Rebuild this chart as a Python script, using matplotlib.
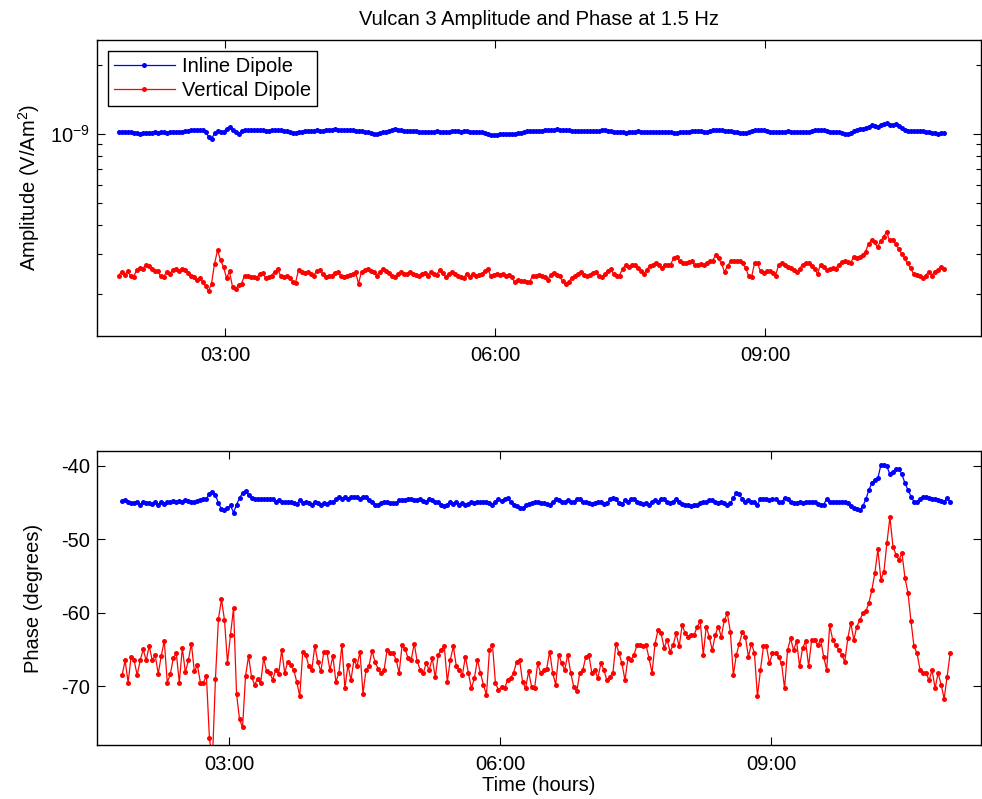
import numpy as np
import matplotlib
matplotlib.use("Agg")
import matplotlib.pyplot as plt
from matplotlib.ticker import FixedLocator, FuncFormatter, LogLocator, NullFormatter

# ── data ─────────────────────────────────────────────────────────────────────
# record clock: first record at 01:49, one record every 2 minutes
T0_MIN = 109
STEP_MIN = 2
AMP_UNIT = 1e-10   # amplitudes below are in units of 1e-10 V/Am^2

amp_inline = [
    10.23, 10.24, 10.22, 10.20, 10.18, 10.10, 10.06, 10.04, 10.07, 10.10,
    10.12, 10.15, 10.17, 10.14, 10.16, 10.19, 10.15, 10.18, 10.20, 10.17,
    10.21, 10.24, 10.26, 10.30, 10.38, 10.42, 10.40, 10.36, 10.41, 10.24,
    9.73, 9.51, 10.07, 10.34, 10.17, 10.24, 10.52, 10.73, 10.41, 10.17,
    10.00, 10.31, 10.41, 10.40, 10.38, 10.41, 10.39, 10.36, 10.38, 10.35,
    10.34, 10.37, 10.40, 10.41, 10.38, 10.35, 10.30, 10.20, 10.10, 10.15,
    10.20, 10.25, 10.30, 10.31, 10.30, 10.34, 10.36, 10.33, 10.35, 10.38,
    10.42, 10.45, 10.48, 10.45, 10.41, 10.40, 10.38, 10.40, 10.36, 10.33,
    10.35, 10.30, 10.25, 10.18, 10.10, 10.02, 10.00, 10.08, 10.18, 10.25,
    10.35, 10.45, 10.52, 10.45, 10.40, 10.35, 10.32, 10.31, 10.30, 10.26,
    10.24, 10.22, 10.25, 10.24, 10.20, 10.23, 10.26, 10.24, 10.22, 10.24,
    10.24, 10.26, 10.30, 10.28, 10.25, 10.30, 10.26, 10.22, 10.24, 10.20,
    10.24, 10.18, 10.10, 9.95, 9.88, 9.90, 9.92, 9.95, 9.97, 9.96,
    10.00, 9.98, 10.02, 10.06, 10.15, 10.20, 10.28, 10.30, 10.31, 10.30,
    10.31, 10.33, 10.38, 10.40, 10.42, 10.45, 10.48, 10.45, 10.42, 10.40,
    10.36, 10.35, 10.33, 10.34, 10.32, 10.30, 10.31, 10.29, 10.30, 10.28,
    10.32, 10.36, 10.40, 10.35, 10.28, 10.25, 10.20, 10.22, 10.18, 10.15,
    10.20, 10.24, 10.22, 10.26, 10.24, 10.22, 10.25, 10.24, 10.20, 10.23,
    10.24, 10.20, 10.18, 10.17, 10.20, 10.15, 10.14, 10.16, 10.18, 10.20,
    10.25, 10.30, 10.35, 10.32, 10.28, 10.20, 10.18, 10.28, 10.38, 10.43,
    10.45, 10.40, 10.35, 10.31, 10.30, 10.25, 10.22, 10.15, 10.10, 10.07,
    10.20, 10.35, 10.42, 10.43, 10.45, 10.40, 10.35, 10.25, 10.20, 10.18,
    10.17, 10.20, 10.24, 10.26, 10.22, 10.20, 10.17, 10.20, 10.18, 10.20,
    10.22, 10.28, 10.38, 10.42, 10.40, 10.36, 10.30, 10.25, 10.24, 10.22,
    10.20, 10.10, 10.00, 10.02, 10.15, 10.30, 10.45, 10.48, 10.55, 10.62,
    10.78, 10.90, 10.80, 10.75, 10.95, 11.08, 11.12, 11.00, 10.90, 11.05,
    10.85, 10.65, 10.45, 10.33, 10.30, 10.28, 10.31, 10.33, 10.30, 10.25,
    10.17, 10.12, 10.05, 10.00, 10.08, 10.12,
]

amp_vertical = [
    2.41, 2.50, 2.43, 2.51, 2.41, 2.37, 2.54, 2.61, 2.58, 2.67,
    2.64, 2.58, 2.53, 2.51, 2.41, 2.37, 2.50, 2.45, 2.54, 2.58,
    2.51, 2.57, 2.54, 2.48, 2.41, 2.37, 2.30, 2.34, 2.26, 2.17,
    2.06, 2.22, 2.71, 3.10, 2.81, 2.63, 2.35, 2.51, 2.15, 2.11,
    2.18, 2.22, 2.41, 2.41, 2.37, 2.37, 2.35, 2.45, 2.48, 2.35,
    2.37, 2.41, 2.50, 2.57, 2.41, 2.37, 2.41, 2.34, 2.26, 2.24,
    2.54, 2.50, 2.48, 2.50, 2.45, 2.41, 2.51, 2.54, 2.45, 2.37,
    2.40, 2.41, 2.48, 2.50, 2.41, 2.37, 2.41, 2.43, 2.45, 2.50,
    2.22, 2.50, 2.54, 2.58, 2.51, 2.50, 2.41, 2.50, 2.58, 2.51,
    2.48, 2.40, 2.37, 2.45, 2.50, 2.45, 2.45, 2.50, 2.45, 2.43,
    2.41, 2.45, 2.48, 2.41, 2.50, 2.45, 2.43, 2.54, 2.48, 2.37,
    2.45, 2.50, 2.45, 2.41, 2.37, 2.35, 2.45, 2.37, 2.45, 2.41,
    2.43, 2.45, 2.51, 2.58, 2.41, 2.43, 2.45, 2.43, 2.45, 2.41,
    2.43, 2.37, 2.26, 2.30, 2.28, 2.28, 2.26, 2.26, 2.40, 2.41,
    2.43, 2.41, 2.37, 2.30, 2.43, 2.48, 2.43, 2.40, 2.28, 2.22,
    2.26, 2.35, 2.40, 2.45, 2.50, 2.43, 2.41, 2.43, 2.48, 2.50,
    2.41, 2.37, 2.45, 2.51, 2.58, 2.45, 2.40, 2.41, 2.58, 2.67,
    2.63, 2.67, 2.69, 2.60, 2.51, 2.45, 2.54, 2.65, 2.69, 2.74,
    2.69, 2.60, 2.67, 2.69, 2.69, 2.86, 2.91, 2.78, 2.72, 2.74,
    2.76, 2.78, 2.69, 2.67, 2.71, 2.67, 2.74, 2.78, 2.80, 2.95,
    2.86, 2.72, 2.50, 2.65, 2.78, 2.80, 2.78, 2.78, 2.74, 2.60,
    2.41, 2.37, 2.72, 2.72, 2.51, 2.48, 2.51, 2.51, 2.48, 2.41,
    2.67, 2.72, 2.67, 2.63, 2.60, 2.54, 2.50, 2.58, 2.69, 2.74,
    2.72, 2.65, 2.58, 2.45, 2.69, 2.63, 2.54, 2.58, 2.60, 2.58,
    2.69, 2.76, 2.80, 2.76, 2.72, 2.91, 2.87, 2.91, 2.97, 3.06,
    3.32, 3.43, 3.36, 3.21, 3.40, 3.55, 3.74, 3.43, 3.45, 3.32,
    3.16, 3.00, 2.87, 2.72, 2.60, 2.45, 2.43, 2.40, 2.35, 2.41,
    2.50, 2.41, 2.50, 2.54, 2.63, 2.58,
]

phase_inline = [
    -44.8, -44.7, -45.0, -45.1, -45.1, -44.9, -45.3, -45.0, -45.1, -45.1,
    -45.2, -45.0, -45.3, -44.9, -45.2, -45.0, -44.9, -44.8, -44.9, -44.8,
    -44.9, -44.7, -44.8, -45.0, -45.0, -44.8, -44.7, -44.6, -44.5, -43.8,
    -43.6, -44.0, -45.1, -45.9, -46.1, -45.8, -45.4, -46.4, -45.3, -44.4,
    -43.7, -43.4, -44.0, -44.4, -44.6, -44.6, -44.5, -44.5, -44.5, -44.6,
    -44.5, -44.9, -44.7, -45.0, -45.0, -45.0, -45.0, -45.1, -45.2, -44.7,
    -45.1, -44.9, -45.1, -45.3, -44.9, -45.1, -45.3, -45.1, -45.2, -45.0,
    -44.9, -44.6, -44.3, -44.5, -44.3, -44.5, -44.3, -44.2, -44.3, -44.6,
    -44.2, -44.3, -44.7, -44.9, -45.3, -45.3, -45.1, -44.9, -45.0, -45.1,
    -45.1, -45.1, -44.7, -44.7, -44.7, -44.6, -44.6, -44.7, -44.7, -44.6,
    -44.8, -44.9, -44.6, -44.7, -44.9, -45.0, -45.3, -45.5, -45.3, -45.0,
    -45.2, -45.0, -45.3, -45.1, -45.3, -45.2, -44.9, -45.1, -44.9, -44.9,
    -45.0, -44.9, -45.1, -45.3, -44.9, -44.6, -44.8, -44.5, -44.4, -44.9,
    -45.3, -45.5, -45.7, -45.8, -45.4, -45.2, -45.1, -45.0, -44.9, -45.1,
    -45.1, -45.2, -45.3, -44.9, -44.6, -44.7, -44.9, -44.9, -44.7, -45.0,
    -44.9, -44.5, -44.6, -44.9, -45.0, -45.1, -45.2, -45.1, -45.0, -45.0,
    -45.2, -45.1, -44.6, -44.4, -44.6, -45.1, -45.2, -44.7, -44.9, -44.5,
    -44.5, -44.9, -45.1, -45.2, -45.1, -45.3, -45.0, -44.7, -44.9, -44.6,
    -44.6, -44.9, -45.1, -44.9, -44.6, -44.9, -45.2, -45.3, -45.4, -45.5,
    -45.4, -45.3, -45.1, -44.9, -45.0, -44.7, -44.7, -44.9, -45.1, -45.0,
    -45.1, -45.3, -45.1, -44.4, -43.7, -43.9, -44.6, -44.9, -44.7, -45.0,
    -44.9, -45.3, -44.5, -44.6, -44.6, -44.7, -44.6, -44.6, -44.9, -45.0,
    -44.4, -44.6, -44.9, -45.1, -45.1, -45.0, -45.1, -45.0, -44.9, -44.9,
    -45.0, -45.2, -45.3, -45.3, -44.5, -45.0, -45.0, -45.0, -44.9, -45.0,
    -45.0, -45.1, -45.5, -45.8, -45.9, -46.0, -45.5, -44.6, -43.3, -42.4,
    -42.0, -41.7, -39.9, -39.9, -40.1, -41.2, -40.8, -40.4, -40.4, -41.2,
    -42.4, -43.3, -44.2, -44.9, -44.9, -44.5, -44.3, -44.3, -44.4, -44.5,
    -44.5, -44.7, -44.8, -44.9, -44.4, -45.0,
]

phase_vertical = [
    -68.5, -66.5, -69.5, -66.0, -66.5, -68.5, -66.5, -65.0, -66.5, -64.5,
    -66.5, -65.8, -68.3, -65.9, -63.8, -69.5, -68.4, -66.2, -65.5, -69.5,
    -64.8, -68.1, -66.5, -64.2, -68.0, -67.1, -69.5, -69.5, -68.6, -77.1,
    -80.0, -69.0, -60.8, -58.2, -61.0, -66.8, -63.0, -59.4, -71.0, -74.5,
    -75.6, -68.6, -65.9, -68.8, -69.8, -69.0, -69.6, -66.2, -68.0, -68.2,
    -69.1, -67.8, -68.3, -65.1, -68.2, -66.7, -67.1, -67.8, -69.4, -71.4,
    -65.3, -65.7, -67.3, -67.8, -64.5, -66.7, -68.0, -65.3, -65.3, -67.8,
    -65.9, -69.4, -68.2, -64.4, -70.3, -67.1, -69.2, -66.4, -67.3, -65.3,
    -71.0, -67.8, -67.2, -65.2, -66.7, -67.6, -68.2, -67.8, -65.1, -65.5,
    -65.5, -66.4, -68.2, -64.4, -65.0, -66.2, -66.5, -64.2, -66.6, -67.8,
    -68.2, -66.9, -67.8, -66.2, -68.8, -65.7, -65.1, -64.6, -69.4, -66.4,
    -64.6, -67.3, -67.8, -68.5, -66.0, -68.2, -70.3, -68.9, -66.4, -68.2,
    -69.8, -71.2, -65.1, -64.4, -69.6, -70.5, -70.1, -70.3, -69.2, -68.9,
    -68.2, -66.7, -66.4, -69.4, -70.3, -68.0, -70.1, -70.3, -66.9, -68.2,
    -67.8, -67.6, -65.3, -68.2, -69.8, -65.7, -66.9, -67.8, -65.7, -68.2,
    -70.1, -70.7, -68.2, -67.8, -66.0, -65.7, -68.2, -67.8, -68.9, -66.9,
    -67.8, -69.2, -68.7, -68.2, -64.2, -65.5, -66.9, -69.2, -66.2, -66.4,
    -65.7, -64.4, -64.4, -64.6, -64.4, -66.2, -68.2, -64.2, -62.3, -62.8,
    -64.8, -63.7, -65.3, -64.4, -62.8, -64.6, -61.7, -62.8, -63.3, -63.0,
    -63.0, -61.9, -61.2, -65.7, -61.9, -63.3, -65.1, -63.0, -61.9, -63.3,
    -61.0, -60.1, -62.6, -68.5, -65.7, -64.2, -62.6, -63.3, -66.0, -64.2,
    -65.5, -71.4, -67.8, -64.6, -64.6, -66.9, -65.5, -65.5, -66.0, -66.9,
    -70.3, -65.1, -63.5, -65.1, -63.9, -67.3, -64.8, -63.9, -67.3, -63.7,
    -63.7, -64.4, -63.7, -66.0, -67.8, -61.7, -63.7, -64.4, -65.1, -65.7,
    -66.7, -63.5, -61.4, -63.7, -61.9, -61.0, -60.1, -59.8, -58.7, -56.9,
    -54.6, -51.4, -55.5, -54.4, -50.5, -47.0, -51.0, -52.1, -52.8, -51.9,
    -55.3, -57.3, -61.2, -64.6, -65.5, -67.8, -68.2, -68.2, -69.2, -67.8,
    -70.3, -68.2, -69.8, -71.7, -68.7, -65.5,
]

hours = (T0_MIN + STEP_MIN * np.arange(len(amp_inline))) / 60.0

# ── style ─────────────────────────────────────────────────────────────────────
plt.rcParams.update({
    "font.family": "Liberation Sans", "font.size": 14.5,
    "mathtext.fontset": "custom", "mathtext.rm": "Liberation Sans",
    "mathtext.it": "Liberation Sans:italic", "mathtext.bf": "Liberation Sans:bold",
    "axes.unicode_minus": False, "axes.linewidth": 1.0,
    "xtick.direction": "in", "ytick.direction": "in",
    "xtick.top": True, "ytick.right": True,
    "xtick.major.size": 6, "ytick.major.size": 6,
    "xtick.minor.size": 3.5, "ytick.minor.size": 3.5,
})
C_IN = "#0000ff"
C_VT = "#ff0000"
line_kw = dict(marker="o", ms=3.6, mew=0, lw=0.9)

def hhmm(h, pos):
    return f"{int(round(h)):02d}:00"

fig = plt.figure(figsize=(9.82, 7.99), dpi=100)
ax1 = fig.add_axes([0.0988, 0.5795, 0.9002, 0.3705])
ax2 = fig.add_axes([0.0988, 0.0676, 0.9002, 0.3680])

# ── amplitude ────────────────────────────────────────────────────────────────
ax1.semilogy(hours, np.array(amp_inline) * AMP_UNIT, color=C_IN, label="Inline Dipole", **line_kw)
ax1.semilogy(hours, np.array(amp_vertical) * AMP_UNIT, color=C_VT, label="Vertical Dipole", **line_kw)
ax1.set_xlim(1.578, 11.40)
ax1.set_ylim(1.312e-10, 2.574e-9)
ax1.yaxis.set_major_locator(LogLocator(base=10))
ax1.yaxis.set_minor_locator(LogLocator(base=10, subs=np.arange(2, 10)))
ax1.yaxis.set_minor_formatter(NullFormatter())
ax1.set_ylabel("Amplitude (V/Am$^2$)", labelpad=6)
ax1.set_title("Vulcan 3 Amplitude and Phase at 1.5 Hz", fontsize=14.5, pad=11)
ax1.legend(loc="upper left", handlelength=3, handletextpad=0.35, labelspacing=0.25,
           borderpad=0.3, borderaxespad=0.55, fancybox=False, framealpha=1,
           edgecolor="black", numpoints=1)

# ── phase ────────────────────────────────────────────────────────────────────
ax2.plot(hours, phase_inline, color=C_IN, **line_kw)
ax2.plot(hours, phase_vertical, color=C_VT, **line_kw)
ax2.set_xlim(1.539, 11.325)
ax2.set_ylim(-78, -38)
ax2.yaxis.set_major_locator(FixedLocator([-70, -60, -50, -40]))
ax2.set_ylabel("Phase (degrees)", labelpad=13)
ax2.set_xlabel("Time (hours)", labelpad=2)

for ax in (ax1, ax2):
    ax.xaxis.set_major_locator(FixedLocator([3, 6, 9]))
    ax.xaxis.set_major_formatter(FuncFormatter(hhmm))
    ax.tick_params(which="both", width=0.8)
    ax.tick_params(axis="x", pad=7)
    ax.tick_params(axis="y", pad=5)

fig.savefig("out.png", dpi=100)
